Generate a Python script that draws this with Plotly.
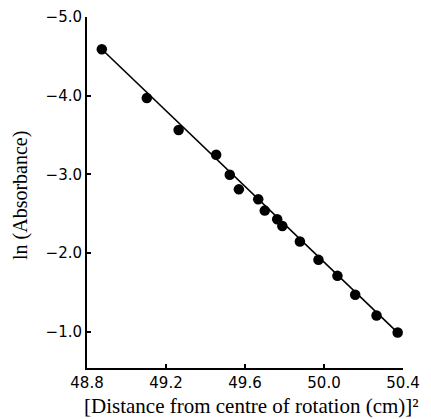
import plotly.graph_objects as go

# data points: x = [distance from centre of rotation (cm)]^2, y = ln(Absorbance)
x_vals = [48.875, 49.103, 49.264, 49.454, 49.523, 49.569, 49.667, 49.700,
          49.763, 49.789, 49.878, 49.972, 50.068, 50.158, 50.266, 50.373]
y_vals = [-4.59, -3.97, -3.565, -3.25, -2.995, -2.81, -2.685, -2.54,
          -2.43, -2.345, -2.147, -1.914, -1.711, -1.47, -1.207, -0.991]

# fitted line endpoints
line_x = [48.875, 50.373]
line_y = [-4.59, -0.99]

x_ticks = [48.8, 49.2, 49.6, 50.0, 50.4]
x_tick_labels = ["48.8", "49.2", "49.6", "50.0", "50.4"]
y_ticks = [-5.0, -4.0, -3.0, -2.0, -1.0]
y_tick_labels = ["\u22125.0", "\u22124.0", "\u22123.0", "\u22122.0", "\u22121.0"]

x_title = "[Distance from centre of rotation (cm)]\u00b2"
y_title = "ln (Absorbance)"

fig = go.Figure()
fig.add_trace(go.Scatter(x=line_x, y=line_y, mode="lines",
                         line=dict(color="black", width=1.6), showlegend=False))
fig.add_trace(go.Scatter(x=x_vals, y=y_vals, mode="markers",
                         marker=dict(color="black", size=10.5), showlegend=False))

# page body has an 8px margin, so the figure starts 8px into the window
fig.update_layout(
    width=423, height=411,
    margin=dict(l=79, r=28, t=9, b=51),
    paper_bgcolor="white", plot_bgcolor="white",
    showlegend=False,
)
fig.update_xaxes(
    range=[48.8, 50.4], tickvals=x_ticks, ticktext=x_tick_labels,
    showgrid=False, zeroline=False, showline=True, linecolor="black", linewidth=2,
    ticks="inside", ticklen=4, tickwidth=2, tickcolor="black",
    tickfont=dict(family="DejaVu Sans", size=15, color="black"),
    automargin=False,
)
fig.update_yaxes(
    range=[-0.54, -5.0], tickvals=y_ticks, ticktext=y_tick_labels,
    showgrid=False, zeroline=False, showline=True, linecolor="black", linewidth=2,
    ticks="inside", ticklen=4, tickwidth=2, tickcolor="black",
    tickfont=dict(family="DejaVu Sans", size=15, color="black"),
    automargin=False,
)
fig.add_annotation(text=x_title, xref="paper", yref="paper", x=0.522, y=0,
                   xanchor="center", yanchor="middle", yshift=-38, showarrow=False,
                   font=dict(family="Liberation Serif", size=21, color="black"))
fig.add_annotation(text=y_title, xref="paper", yref="paper", x=0, y=0.49,
                   xanchor="center", yanchor="middle", xshift=-67, textangle=-90,
                   showarrow=False,
                   font=dict(family="Liberation Serif", size=20, color="black"))

fig.write_html("out.html")
